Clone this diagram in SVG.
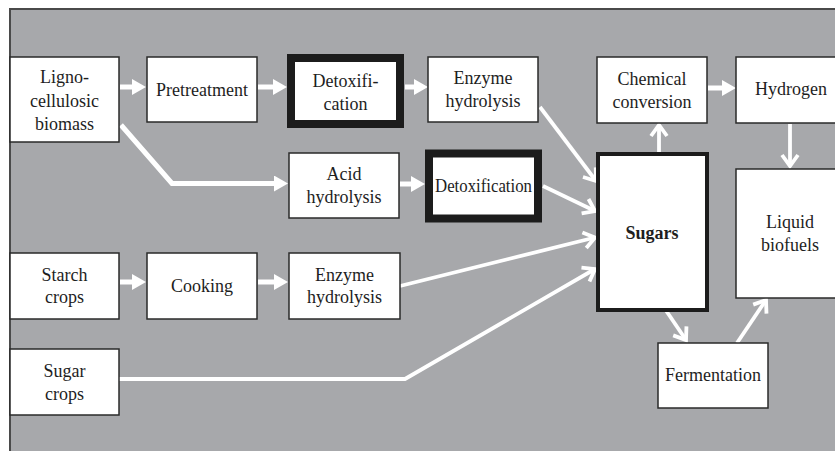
<svg xmlns="http://www.w3.org/2000/svg" width="835" height="451" viewBox="0 0 835 451">
  <style>
    .box { fill: #ffffff; stroke: #2a2a2a; stroke-width: 1.5; }
    .thick { fill: #ffffff; stroke: #1c1c1c; stroke-width: 8; }
    .mid { fill: #ffffff; stroke: #1c1c1c; stroke-width: 4; }
    text { font-family: "Liberation Serif", "Times New Roman", serif; font-size: 18px; fill: #1e1e1e; text-anchor: middle; }
    .bold { font-weight: bold; }
    .flow { fill: none; stroke: #ffffff; stroke-width: 5; stroke-linejoin: miter; }
    .flow-thin { fill: none; stroke: #ffffff; stroke-width: 3.8; stroke-linejoin: miter; }
  </style>
  <defs>
    <marker id="tri" markerUnits="userSpaceOnUse" viewBox="0 0 14 16" markerWidth="14" markerHeight="16" refX="9" refY="8" orient="auto">
      <path d="M0,0 L14,8 L0,16 Z" fill="#ffffff"/>
    </marker>
    <marker id="chev" markerUnits="userSpaceOnUse" viewBox="-16 -11 20 22" markerWidth="20" markerHeight="22" refX="0" refY="0" orient="auto" overflow="visible">
      <path d="M-11,-8 L0,0 L-11,8" fill="none" stroke="#ffffff" stroke-width="3.8" stroke-linejoin="miter"/>
    </marker>
  </defs>

  <!-- page and framed panel -->
  <rect x="0" y="0" width="835" height="451" fill="#ffffff"/>
  <rect x="10" y="9" width="830" height="450" fill="#a7a8ab" stroke="#4a4a4a" stroke-width="2"/>

  <!-- flow connectors -->
  <g id="connectors">
    <path class="flow" d="M120,87 H141" marker-end="url(#tri)"/>
    <path class="flow" d="M258,87 H282" marker-end="url(#tri)"/>
    <path class="flow" d="M405,87 H423" marker-end="url(#tri)"/>
    <path class="flow" d="M121,125 L172,183.5 H283" marker-end="url(#tri)"/>
    <path class="flow" d="M400,184 H420" marker-end="url(#tri)"/>
    <path class="flow" d="M120,282 H141" marker-end="url(#tri)"/>
    <path class="flow" d="M258,282 H283" marker-end="url(#tri)"/>
    <path class="flow" d="M708,88 H731" marker-end="url(#tri)"/>

    <path class="flow-thin" d="M540,107 L596,181" marker-end="url(#chev)"/>
    <path class="flow-thin" d="M543,186 L595,211" marker-end="url(#chev)"/>
    <path class="flow-thin" d="M400,286 L595,237.5" marker-end="url(#chev)"/>
    <path class="flow-thin" d="M119,379 H405 L595,269" marker-end="url(#chev)"/>
    <path class="flow-thin" d="M659,152 V125" marker-end="url(#chev)"/>
    <path class="flow-thin" d="M790,124 V166" marker-end="url(#chev)"/>
    <path class="flow-thin" d="M665,309 L686,340" marker-end="url(#chev)"/>
    <path class="flow-thin" d="M737,343 L766,300" marker-end="url(#chev)"/>
  </g>

  <g id="lignocellulosic">
    <rect class="box" x="10" y="57" width="109" height="85"/>
    <text x="64.5" y="83">Ligno-</text>
    <text x="64.5" y="107">cellulosic</text>
    <text x="64.5" y="130">biomass</text>
  </g>
  <g id="pretreatment">
    <rect class="box" x="147" y="57" width="110" height="65"/>
    <text x="202" y="96">Pretreatment</text>
  </g>
  <g id="detox-upper">
    <rect class="thick" x="291" y="58" width="109" height="66"/>
    <text x="345.5" y="86.5">Detoxifi-</text>
    <text x="345.5" y="109.5">cation</text>
  </g>
  <g id="enzyme-upper">
    <rect class="box" x="428" y="57" width="110" height="65"/>
    <text x="483" y="84">Enzyme</text>
    <text x="483" y="107">hydrolysis</text>
  </g>
  <g id="acid">
    <rect class="box" x="289" y="153" width="110" height="65"/>
    <text x="344" y="179.5">Acid</text>
    <text x="344" y="202.5">hydrolysis</text>
  </g>
  <g id="detox-lower">
    <rect class="thick" x="429" y="153.5" width="109" height="65"/>
    <text x="483.5" y="192" textLength="97" lengthAdjust="spacingAndGlyphs">Detoxification</text>
  </g>
  <g id="chemical">
    <rect class="box" x="597" y="57" width="110" height="66"/>
    <text x="652" y="85">Chemical</text>
    <text x="652" y="108">conversion</text>
  </g>
  <g id="hydrogen">
    <rect class="box" x="736" y="57" width="110" height="66"/>
    <text x="791" y="95">Hydrogen</text>
  </g>
  <g id="sugars">
    <rect class="mid" x="598" y="154" width="109" height="156"/>
    <text class="bold" x="652" y="239">Sugars</text>
  </g>
  <g id="liquid-biofuels">
    <rect class="box" x="736" y="169" width="110" height="129"/>
    <text x="790" y="228">Liquid</text>
    <text x="790" y="251">biofuels</text>
  </g>
  <g id="fermentation">
    <rect class="box" x="658" y="343" width="110" height="65"/>
    <text x="713" y="381">Fermentation</text>
  </g>
  <g id="starch">
    <rect class="box" x="10" y="253" width="109" height="66"/>
    <text x="64.5" y="281">Starch</text>
    <text x="64.5" y="303">crops</text>
  </g>
  <g id="cooking">
    <rect class="box" x="147" y="253" width="110" height="66"/>
    <text x="202" y="292">Cooking</text>
  </g>
  <g id="enzyme-lower">
    <rect class="box" x="289" y="253" width="111" height="66"/>
    <text x="344.5" y="281">Enzyme</text>
    <text x="344.5" y="303">hydrolysis</text>
  </g>
  <g id="sugar-crops">
    <rect class="box" x="10" y="349" width="109" height="66"/>
    <text x="64.5" y="377">Sugar</text>
    <text x="64.5" y="400">crops</text>
  </g>
</svg>
